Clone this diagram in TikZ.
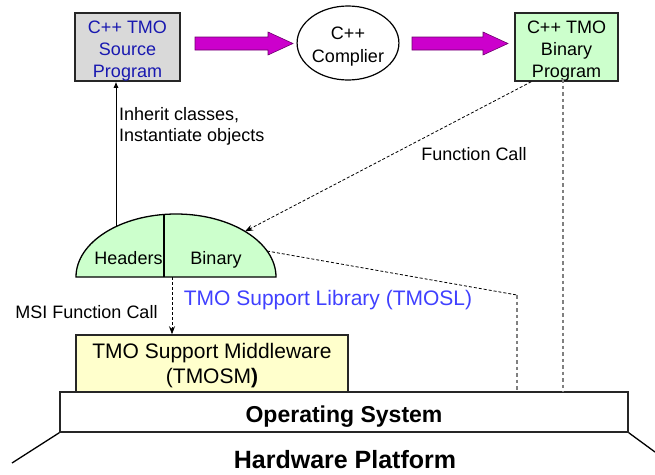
\documentclass[tikz,border=0pt]{standalone}
\usepackage{fontspec}
\setmainfont{Liberation Sans}
\usetikzlibrary{arrows.meta,shapes.geometric,calc}
\definecolor{srcfill}{RGB}{217,217,217}
\definecolor{srcblue}{RGB}{24,24,176}
\definecolor{libblue}{RGB}{64,64,255}
\definecolor{grn}{RGB}{204,255,204}
\definecolor{ylw}{RGB}{255,255,204}
\definecolor{mag}{RGB}{204,0,204}
\definecolor{magedge}{RGB}{110,0,110}
\definecolor{dgray}{RGB}{128,128,128}
\tikzset{
 boxtext/.style={font=\fontsize{18}{22}\selectfont, align=center, text height=64pt, text depth=4pt},
 bx/.style={draw=black!85, line width=1.5pt, inner sep=0pt, rectangle},
 fat/.style={fill=mag, draw=magedge, line width=0.6pt},
 lbl/.style={font=\fontsize{18}{21}\selectfont, inner sep=0pt},
 dsh/.style={draw=black, line width=0.8pt, dash pattern=on 3pt off 2pt},
 gdsh/.style={draw=dgray, line width=1.3pt, dash pattern=on 3.5pt off 3pt},
 tipA/.style={-{Latex[length=6pt,width=5pt]}},
 tipB/.style={-{Stealth[length=8pt,width=6pt]}},
}
\begin{document}
\begin{tikzpicture}[x=1pt,y=-1pt]
\useasboundingbox (0,0) rectangle (655,474);

% top row
\node[bx, boxtext, fill=srcfill, text=srcblue, minimum width=105pt, minimum height=64pt] (src) at (127.5,47) {C++ TMO\\Source\\Program};
\node[ellipse, draw=black, line width=1.2pt, inner sep=0pt, minimum width=97pt, minimum height=74pt,
      font=\fontsize{18}{23}\selectfont, align=center, text height=42pt, text depth=4pt] (comp) at (348,43) {C++\\Complier};
\node[bx, boxtext, fill=grn, minimum width=103pt, minimum height=64pt] (bin) at (566.5,47) {C++ TMO\\Binary\\Program};

% fat magenta arrows
\draw[fat] (195,37) -- (268,37) -- (268,32) -- (293,43.5) -- (268,55) -- (268,50) -- (195,50) -- cycle;
\draw[fat] (412,37) -- (483,37) -- (483,32) -- (508,43.5) -- (483,55) -- (483,50) -- (412,50) -- cycle;

% dome (TMO support library)
\draw[fill=grn, line width=1.3pt] (76,277) arc[start angle=180, end angle=360, x radius=100, y radius=63] -- cycle;
\draw[line width=1.3pt] (164,277) -- (164,214.6);
\node[lbl, anchor=base] (hdr) at (128.5,264) {Headers};
\node[lbl, anchor=base] (binl) at (216,264) {Binary};
\coordinate (domeA) at (116,226.6);
\coordinate (domeB) at (245,231.4);
\coordinate (domeC) at (267,251);
\coordinate (domeD) at (172,277);
\node[lbl, anchor=base, text=libblue, font=\fontsize{21}{25}\selectfont] (lib) at (328,305) {TMO Support Library (TMOSL)};

% middleware and OS
\node[bx, fill=ylw, minimum width=272pt, minimum height=57pt, font=\fontsize{21}{25}\selectfont, align=center,
      text height=44pt, text depth=5pt] (mw) at (212,363.5) {TMO Support Middleware\\(TMOSM\textbf{)}};
\node[bx, fill=white, minimum width=568pt, minimum height=40pt, font=\bfseries\fontsize{23}{27}\selectfont,
      text height=20pt, text depth=0pt] (os) at (344,412) {Operating System};

% hardware platform
\coordinate (hwL) at (12,463);
\coordinate (hwR) at (655,452);
\draw[line width=1.3pt] (os.south west) -- (hwL);
\draw[line width=1.3pt] (os.south east) -- (hwR);
\node[inner sep=0pt, anchor=base, font=\bfseries\fontsize{25}{29}\selectfont] (hw) at (345,468) {Hardware Platform};

% connectors
\draw[tipA, line width=0.9pt] (domeA) -- (domeA |- src.south);
\node[lbl, align=left, anchor=north west] (inh) at (119,107) {Inherit classes,\\Instantiate objects};

\coordinate (fcS) at ($(bin.south west)+(17,0)$);
\draw[dsh, tipB] (fcS) -- (domeB);
\node[lbl, anchor=base] (fcl) at (474,160) {Function Call};

\coordinate (bv) at (563,79);
\draw[gdsh] (bv) -- (bv |- os.north);

\coordinate (corner) at (517,295);
\draw[dsh] (domeC) -- (corner);
\draw[gdsh] (corner) -- (corner |- os.north);

\draw[dsh, tipB] (domeD) -- (domeD |- mw.north);
\node[lbl, anchor=base] (msi) at (86.5,318) {MSI Function Call};
\end{tikzpicture}
\end{document}
